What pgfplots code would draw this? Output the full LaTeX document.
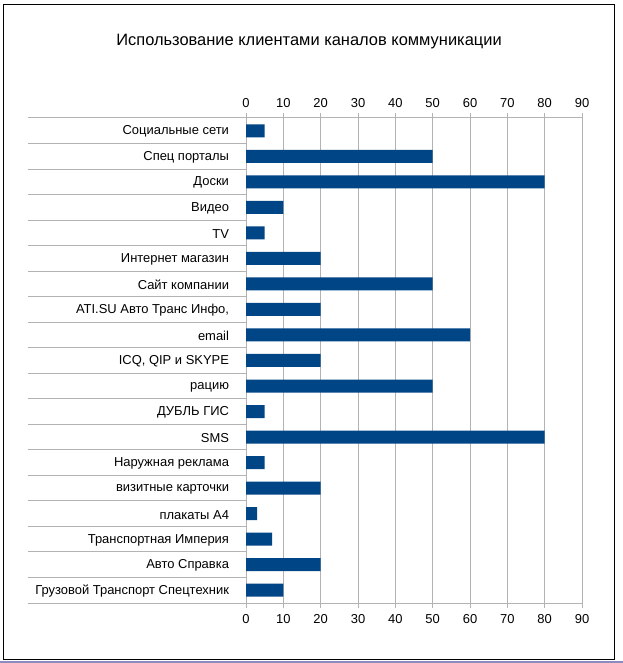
\documentclass[border=0pt]{standalone}
\usepackage{pgfplots}
\pgfplotsset{compat=1.18}
\usepackage{fontspec}
\setmainfont{Liberation Sans}
\definecolor{barblue}{RGB}{0,69,134}
\definecolor{gridgray}{RGB}{179,179,179}

\pgfplotstableread[col sep=semicolon]{
idx;val
0;5
1;50
2;80
3;10
4;5
5;20
6;50
7;20
8;60
9;20
10;50
11;5
12;80
13;5
14;20
15;3
16;7
17;20
18;10
}\usage

\begin{document}
\begin{tikzpicture}[x=1bp,y=1bp]
% page size and outer frame
\path (0,0) rectangle (623,663);
\fill[white] (0,0) rectangle (623,663);
\draw[black, line width=1.2bp] (3.5,3.5) rectangle (614.5,658.5);
\fill[blue!30!gray!70] (0,0) rectangle (623,2);

\node[font=\fontsize{16.5}{19}\selectfont, anchor=base] at (309,617) {Использование клиентами каналов коммуникации};

\begin{axis}[
    at={(246bp,60bp)}, anchor=south west,
    scale only axis,
    width=336bp, height=485bp,
    xmin=0, xmax=90,
    ymin=-0.5, ymax=18.5,
    y dir=reverse,
    xbar, bar width=13bp,
    xtick={0,10,...,90},
    xmajorgrids=true,
    grid style={gridgray, line width=1bp},
    axis line style={gridgray, line width=1bp},
    tick style={gridgray, line width=1bp},
    tick align=outside,
    major tick length=5bp,
    minor tick length=218bp,
    xtick pos=both,
    xticklabel pos=left,
    ytick={0,...,18},
    ytick pos=left,
    minor ytick={-0.5,0.5,...,18.5},
    every major y tick/.style={draw=none},
    yticklabels={Социальные сети, Спец порталы, Доски, Видео, TV, Интернет магазин, Сайт компании, {ATI.SU Авто Транс Инфо,}, email, {ICQ, QIP и SKYPE}, рацию, ДУБЛЬ ГИС, SMS , Наружная реклама, визитные карточки, плакаты А4, Транспортная Империя, Авто Справка, Грузовой Транспорт Спецтехник},
    yticklabel style={font=\fontsize{13}{15}\selectfont, xshift=-8.5bp, yshift=-1bp},
    xticklabel style={font=\fontsize{13}{15}\selectfont, yshift=-2.5bp},
    /pgf/number format/assume math mode=true,
    clip=false,
]
\addplot[fill=barblue, draw=none] table[x=val, y=idx] {\usage};
\end{axis}

\begin{axis}[
    at={(246bp,60bp)}, anchor=south west,
    scale only axis,
    width=336bp, height=485bp,
    xmin=0, xmax=90,
    ymin=-0.5, ymax=18.5,
    xtick={0,10,...,90},
    ytick=\empty,
    axis line style={draw=none},
    tick style={draw=none},
    tick align=outside,
    major tick length=5bp,
    xtick pos=right,
    xticklabel pos=right,
    xticklabel style={font=\fontsize{13}{15}\selectfont, yshift=1.5bp},
    /pgf/number format/assume math mode=true,
]
\end{axis}
\end{tikzpicture}
\end{document}
